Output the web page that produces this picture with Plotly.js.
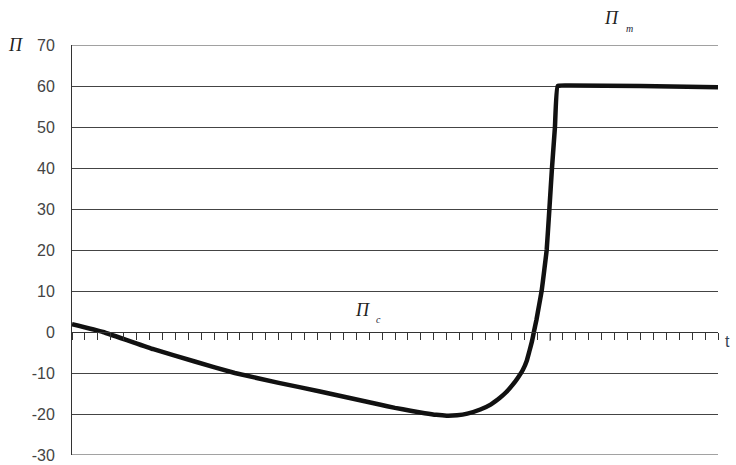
<!DOCTYPE html>
<html>
<head>
<meta charset="utf-8">
<script src="https://cdn.plot.ly/plotly-3.0.1.min.js"></script>
<style>html,body{margin:0;padding:0;background:#fff;}#chart{width:736px;height:465px;}</style>
</head>
<body>
<div id="chart"></div>
<script>
// Data
var tValues = [0, 2.4, 6.3, 9.5, 12.6, 16, 19.2, 21.5, 23.8, 25, 26.2, 27.3, 28.2, 29, 29.8, 30.6, 31.6, 32.4, 33.1, 33.6, 34.1, 34.5, 34.9, 35.2, 35.4, 35.6, 35.75, 35.95, 36.15, 36.35, 36.55, 36.74, 36.95, 37.15, 37.38, 37.59, 38.5, 44, 50];
var pValues = [1.9, 0, -4.2, -7.2, -10, -12.4, -14.5, -16.1, -17.7, -18.5, -19.2, -19.8, -20.2, -20.4, -20.3, -19.9, -18.9, -17.7, -16.1, -14.7, -12.9, -11.2, -9.2, -7.0, -4.7, -2.3, 0, 3, 6.5, 10, 15, 20, 30, 40, 50, 60, 60.1, 60, 59.7];
var yTickValues = [-30, -20, -10, 0, 10, 20, 30, 40, 50, 60, 70];
var yTickLabels = ['-30', '-20', '-10', '0', '10', '20', '30', '40', '50', '60', '70'];

var trace = {
  x: tValues, y: pValues, type: 'scatter', mode: 'lines',
  line: {color: '#111', width: 4.5, shape: 'spline', smoothing: 0.3},
  hoverinfo: 'skip'
};

var serif = 'Liberation Serif, DejaVu Serif, serif';
var layout = {
  width: 736, height: 465,
  margin: {l: 72, r: 18, t: 45, b: 10, pad: 0},
  paper_bgcolor: '#fff', plot_bgcolor: '#fff',
  showlegend: false,
  font: {family: 'Liberation Sans, Arial, sans-serif', size: 16, color: '#444'},
  xaxis: {
    range: [0, 50], anchor: 'free', position: 0.3,
    showgrid: false, zeroline: false,
    showline: true, linecolor: '#333', linewidth: 1,
    ticks: 'outside', ticklen: 7, tickcolor: '#333', tickwidth: 1,
    dtick: 1, tick0: 0, showticklabels: false
  },
  yaxis: {
    range: [-30, 70],
    tickvals: yTickValues, ticktext: yTickLabels,
    showgrid: true, gridcolor: '#444', gridwidth: 1,
    zeroline: false,
    showline: true, linecolor: '#333', linewidth: 1,
    ticks: 'outside', ticklen: 13, tickcolor: 'rgba(0,0,0,0)',
    tickfont: {family: 'Liberation Sans, Arial, sans-serif', size: 16, color: '#444'}
  },
  shapes: [
    {type: 'line', xref: 'x', yref: 'y', x0: 37, x1: 37, y0: -0.4, y1: -2.2, line: {color: '#555', width: 1}},
    {type: 'line', xref: 'paper', yref: 'y', x0: 0, x1: 1, y0: 70, y1: 70, line: {color: '#444', width: 1}},
    {type: 'line', xref: 'paper', yref: 'y', x0: 0, x1: 1, y0: -30, y1: -30, line: {color: '#444', width: 1}}
  ],
  annotations: [
    {xref: 'paper', yref: 'paper', x: 0, y: 1.0, xshift: -57, xanchor: 'center', yanchor: 'middle', showarrow: false,
     text: '<i>П</i>', font: {family: serif, size: 18, color: '#222'}},
    {xref: 'paper', yref: 'paper', x: 0, y: 1.0, xshift: 539, yshift: 27, xanchor: 'center', yanchor: 'middle', showarrow: false,
     text: '<i>П</i>', font: {family: serif, size: 18, color: '#222'}},
    {xref: 'paper', yref: 'paper', x: 0, y: 1.0, xshift: 557, yshift: 17, xanchor: 'center', yanchor: 'middle', showarrow: false,
     text: '<i>m</i>', font: {family: serif, size: 10, color: '#223'}},
    {xref: 'x', yref: 'y', x: 22.5, y: 5.3, xanchor: 'center', yanchor: 'middle', showarrow: false,
     text: '<i>П</i>', font: {family: serif, size: 18, color: '#222'}},
    {xref: 'x', yref: 'y', x: 23.7, y: 3.0, xanchor: 'center', yanchor: 'middle', showarrow: false,
     text: '<i>c</i>', font: {family: serif, size: 10, color: '#223'}},
    {xref: 'paper', yref: 'y', x: 1.0, y: -2.2, xanchor: 'left', yanchor: 'middle', showarrow: false, xshift: 5,
     text: 't', font: {family: 'Liberation Sans, Arial, sans-serif', size: 16, color: '#345'}}
  ]
};

Plotly.newPlot('chart', [trace], layout, {displayModeBar: false, staticPlot: true});
</script>
</body>
</html>
